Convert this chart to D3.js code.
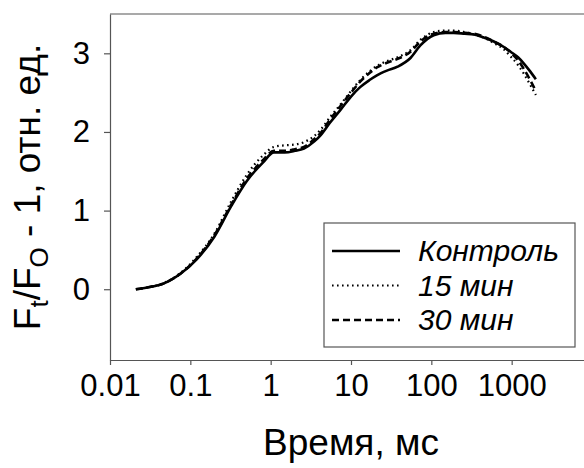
<!DOCTYPE html><head><meta charset = "utf-8">
<title>Ft/Fo kinetics</title>
<style type = "text/css">
html, body {
  margin: 0;
  background: white;
  overflow: hidden;
}
svg {
  display: block;
}
svg text {
  font-family: "Liberation Sans", Arial, sans-serif;
  fill: black;
}
</style>
<script type="text/javascript" src="https://cdn.jsdelivr.net/npm/d3@7/dist/d3.min.js"></script>
</head><body>
<div class="chart"></div>

<script type="text/javascript">

// time, ms
var times = [0.021, 0.03, 0.047, 0.076, 0.12, 0.2, 0.32, 0.5, 0.8, 1.1, 1.5, 2, 2.6, 3.5, 4.2, 5.5, 7.4, 10, 13, 17,
             21, 28, 38, 55, 73, 107, 150, 190, 260, 340, 450, 600, 800, 970, 1200, 1420, 1700, 2000];

var control = [0, 0.025, 0.075, 0.20, 0.38, 0.67, 1.05, 1.37, 1.61, 1.74, 1.74, 1.76, 1.79, 1.88, 1.96, 2.12, 2.28, 2.45, 2.57, 2.66,
               2.72, 2.78, 2.83, 2.94, 3.10, 3.23, 3.26, 3.26, 3.25, 3.24, 3.20, 3.15, 3.08, 3.02, 2.95, 2.87, 2.77, 2.67];

var min15 = [0, 0.025, 0.08, 0.21, 0.41, 0.71, 1.11, 1.45, 1.70, 1.81, 1.83, 1.84, 1.87, 1.95, 2.03, 2.19, 2.35, 2.52, 2.66, 2.77,
             2.84, 2.90, 2.95, 3.04, 3.17, 3.27, 3.29, 3.29, 3.27, 3.24, 3.20, 3.13, 3.05, 2.96, 2.85, 2.74, 2.60, 2.47];

var min30 = [0, 0.025, 0.075, 0.20, 0.39, 0.69, 1.07, 1.40, 1.64, 1.76, 1.76, 1.78, 1.81, 1.91, 1.99, 2.16, 2.33, 2.50, 2.64, 2.75,
             2.82, 2.88, 2.93, 3.02, 3.15, 3.25, 3.27, 3.27, 3.26, 3.25, 3.21, 3.15, 3.08, 3.01, 2.91, 2.80, 2.66, 2.52];

var seriesNames = ["Контроль", "15 мин", "30 мин"];
var xTicks = [0.01, 0.1, 1, 10, 100, 1000];
var yTicks = [0, 1, 2, 3];

var width = 584, height = 468;
var margin = {left: 110, top: 14, right: -8, bottom: 108};

var svg = d3.select("div.chart").append("svg")
  .attr("width", width)
  .attr("height", height);

var xscale = d3.scaleLog()
  .domain([0.01, 10000])
  .range([margin.left, width - margin.right]);
var yscale = d3.scaleLinear()
  .domain([-0.9, 3.5])
  .range([height - margin.bottom, margin.top]);

var axisColor = "#555";

// top edge of the frame (the right edge falls outside the picture)
svg.append("line")
  .attr("x1", margin.left).attr("x2", width + 16)
  .attr("y1", margin.top).attr("y2", margin.top)
  .attr("stroke", axisColor)
  .attr("stroke-width", 1.2);

var xaxis = svg.append("g")
  .attr("transform", "translate(0," + (height - margin.bottom) + ")")
  .call(d3.axisBottom(xscale).tickValues(xTicks).tickFormat(d3.format("~g")).tickSize(5).tickPadding(9).tickSizeOuter(0));
var yaxis = svg.append("g")
  .attr("transform", "translate(" + margin.left + ",0)")
  .call(d3.axisLeft(yscale).tickValues(yTicks).tickFormat(d3.format("d")).tickSize(6).tickPadding(14).tickSizeOuter(0));

[xaxis, yaxis].forEach(function(g) {
  g.select(".domain").attr("stroke", axisColor).attr("stroke-width", 1.2);
  g.selectAll(".tick line").attr("stroke", axisColor).attr("stroke-width", 1.2);
  g.selectAll(".tick text").style("font-size", "31px").attr("fill", "black");
});

// axis titles
svg.append("text")
  .attr("x", (xscale.range()[0] + xscale.range()[1]) / 2)
  .attr("y", 455)
  .attr("text-anchor", "middle")
  .style("font-size", "37px")
  .text("Время, мс");

var ytitle = svg.append("text")
  .attr("transform", "translate(40," + ((yscale.range()[0] + yscale.range()[1]) / 2) + ") rotate(-90)")
  .attr("text-anchor", "middle")
  .style("font-size", "37px");
ytitle.append("tspan").text("F");
ytitle.append("tspan").attr("dy", 8).style("font-size", "26px").text("t");
ytitle.append("tspan").attr("dy", -8).text("/F");
ytitle.append("tspan").attr("dy", 8).style("font-size", "26px").text("O");
ytitle.append("tspan").attr("dy", -8).text(" - 1, отн. ед.");

// curves
var styles = [
  {dash: null, width: 2.6},
  {dash: "1.6,3.4", width: 2.2},
  {dash: "7,4", width: 2.6}
];
var allSeries = [control, min15, min30];

var line = d3.line()
  .x(function(d, i) { return xscale(times[i]); })
  .y(function(d) { return yscale(d); })
  .curve(d3.curveMonotoneX);

svg.selectAll("path.data")
  .data(allSeries)
  .join("path").attr("class", "data")
  .attr("d", function(d) { return line(d); })
  .attr("fill", "none")
  .attr("stroke", "black")
  .attr("stroke-width", function(d, i) { return styles[i].width; })
  .attr("stroke-dasharray", function(d, i) { return styles[i].dash; });

// legend
var legend = svg.append("g").attr("transform", "translate(324,223)");
legend.append("rect")
  .attr("width", 251).attr("height", 124)
  .attr("fill", "white")
  .attr("stroke", axisColor)
  .attr("stroke-width", 1.2);

seriesNames.forEach(function(name, i) {
  var cy = 28 + i * 34.5;
  legend.append("line")
    .attr("x1", 8).attr("x2", 76)
    .attr("y1", cy).attr("y2", cy)
    .attr("stroke", "black")
    .attr("stroke-width", styles[i].width)
    .attr("stroke-dasharray", styles[i].dash);
  legend.append("text")
    .attr("x", 94).attr("y", cy + 10)
    .style("font-size", "30px")
    .style("font-style", "italic")
    .text(name);
});

</script>
</body></html>
